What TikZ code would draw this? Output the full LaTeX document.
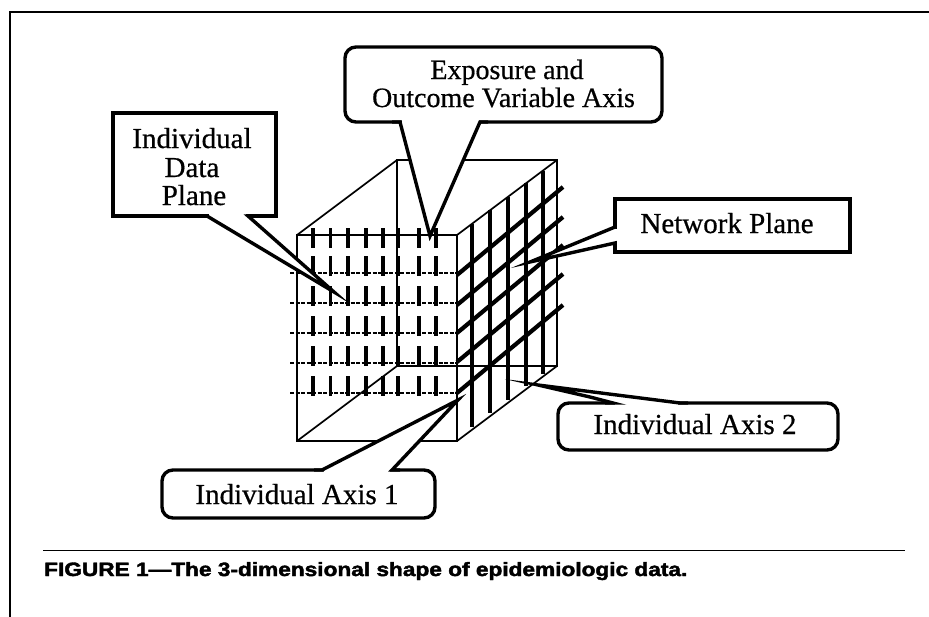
\documentclass[tikz,border=0pt]{standalone}
\usepackage{fontspec}
\setmainfont[FakeBold=0.6]{Liberation Serif}
\newfontfamily\capfont[FakeBold=2]{Liberation Sans}
\usepackage{graphicx}
\tikzset{
  callout/.style={draw, line width=3.4pt, fill=white, inner sep=0pt, outer sep=0pt},
  roundbox/.style={callout, rounded corners=11pt},
  lbl/.style={font=\fontsize{29}{29}\selectfont, anchor=base, inner sep=0pt},
  wedge/.style={line width=3.4pt, fill=white, line join=miter, miter limit=20},
  cube/.style={line width=1.7pt},
  tickmark/.style={line width=3.6pt},
  dashrow/.style={line width=1.8pt, dash pattern=on 4pt off 1.5pt},
  netline/.style={line width=3.4pt},
  netdiag/.style={line width=4.2pt},
}
\begin{document}
\begin{tikzpicture}[x=1pt,y=-1pt]
\useasboundingbox (0,0) rectangle (929,616);
% frame
\draw[line width=2.6pt] (10,620) -- (10,12) -- (932,12);
% cube corners
\coordinate (F1) at (297,235); \coordinate (F2) at (457,235);
\coordinate (F3) at (457,441); \coordinate (F4) at (297,441);
\coordinate (B1) at (397,160); \coordinate (B2) at (557,160);
\coordinate (B3) at (557,366); \coordinate (B4) at (397,366);
% front face ticks and dashed rows
\foreach \y in {273,303,333,363,393} \draw[dashrow] (290,\y) -- (457,\y);
\foreach \x in {313,330.5,348,366,383,398,419,436}
  \foreach \y in {245,273,303,333,363,393}
    \draw[tickmark] (\x,\y-17) -- (\x,\y+3);
% cube edges
\draw[cube] (F1) -- (F2) -- (F3) -- (F4) -- cycle;
\draw[cube] (B1) -- (B2) -- (B3) -- (B4) -- cycle;
\draw[cube] (F1) -- (B1) (F2) -- (B2) (F3) -- (B3) (F4) -- (B4);
\draw[line width=2.6pt] (397,235) -- (B4);
% network plane grid
\foreach \x in {472,490,508,526,543}
  \draw[netline] (\x,{235-0.75*(\x-457)}) -- (\x,{438-0.75*(\x-457)});
\foreach \y in {275,305,333,362,393}
  \draw[netdiag] (457,\y) -- (563,\y-88);
% Exposure callout
\node[roundbox, minimum width=317pt, minimum height=75pt] (expo) at (503.5,84.5) {};
\fill[white] (401.5,119.5) rectangle (478.5,125);
\draw[wedge] (392,122) -- (400,122) -- (430,236) -- (480,122) -- (488,122);
\node[lbl, font=\fontsize{28}{28}\selectfont] (expo1) at (507,79) {Exposure and};
\node[lbl, font=\fontsize{28}{28}\selectfont] (expo2) at (503.5,107) {Outcome Variable Axis};
% Individual Data Plane callout
\node[callout, minimum width=163pt, minimum height=103pt] (idp) at (194.5,164.5) {};
\fill[white] (209,213.5) rectangle (246,219);
\draw[wedge] (199,216) -- (207,216) -- (334,292) -- (248,216) -- (256,216);
\node[lbl] (idp1) at (192,148) {Individual};
\node[lbl] (idp2) at (192,177) {Data};
\node[lbl] (idp3) at (194,205) {Plane};
% Network Plane callout
\node[callout, minimum width=235pt, minimum height=53pt] (net) at (732.5,225.5) {};
\fill[white] (612.5,229) rectangle (618,241);
\draw[wedge] (615,219) -- (615,227) -- (530,262) -- (615,243) -- (615,249);
\node[lbl] (net1) at (727,233) {Network Plane};
% Individual Axis 2 callout
\node[roundbox, minimum width=280pt, minimum height=47pt] (ax2) at (698,426.5) {};
\fill[white] (615,400) rectangle (678,406);
\draw[wedge] (605,403) -- (613,403) -- (590,397) -- (538,385) -- (680,403) -- (688,403);
\node[lbl] (ax2t) at (695,434) {Individual Axis 2};
% Individual Axis 1 callout
\node[roundbox, minimum width=273pt, minimum height=48pt] (ax1) at (298.5,494) {};
\fill[white] (324,467) rectangle (390,473);
\draw[wedge] (314,470) -- (322,470) -- (458,400) -- (392,470) -- (400,470);
\node[lbl] (ax1t) at (297,504) {Individual Axis 1};
% separator and caption
\draw[line width=1.8pt] (43,550.5) -- (905,550.5);
\node[anchor=base west, inner sep=0pt] (cap) at (44,576)
  {\resizebox{643pt}{14pt}{\capfont\bfseries FIGURE 1—The 3-dimensional shape of epidemiologic data.}};
\end{tikzpicture}
\end{document}
